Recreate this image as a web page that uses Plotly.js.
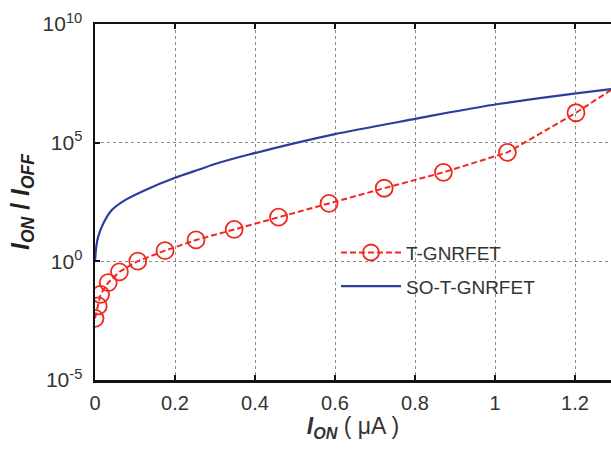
<!DOCTYPE html>
<html>
<head>
<meta charset="utf-8">
<script src="https://cdn.plot.ly/plotly-3.0.1.min.js"></script>
<style>html,body{margin:0;padding:0;background:#fff;}#chart{width:611px;height:457px;}</style>
</head>
<body>
<div id="chart"></div>
<script>
// T-GNRFET (red dashed with open circles): I_ON (uA) and log10(I_ON/I_OFF)
const tX = [0, 0.008, 0.014, 0.033, 0.061, 0.107, 0.175, 0.2525, 0.348, 0.459, 0.585, 0.723, 0.871, 1.031, 1.2025, 1.35];
const tLog = [-2.40, -1.88, -1.39, -0.90, -0.44, 0.01, 0.45, 0.90, 1.35, 1.86, 2.44, 3.08, 3.75, 4.59, 6.26, 7.88];
// SO-T-GNRFET (blue solid)
const sX = [0, 0.003, 0.008, 0.021, 0.042, 0.075, 0.125, 0.2, 0.2625, 0.3, 0.3875, 0.6, 0.8, 0.8875, 1.004, 1.2025, 1.29];
const sLog = [0, 0.6, 1.04, 1.60, 2.16, 2.58, 3.00, 3.52, 3.88, 4.10, 4.51, 5.36, 6.00, 6.28, 6.62, 7.08, 7.26];

const xTicks = [0, 0.2, 0.4, 0.6, 0.8, 1, 1.2];
const xTickText = ['0', '0.2', '0.4', '0.6', '0.8', '1', '1.2'];
const yTicks = [1e-5, 1e0, 1e5, 1e10];
const yTickText = ['10<sup>-5</sup>', '10<sup>0</sup>', '10<sup>5</sup>', '10<sup>10</sup>'];

const tY = tLog.map(v => Math.pow(10, v));
const sY = sLog.map(v => Math.pow(10, v));

const traces = [
  {
    x: tX, y: tY, type: 'scatter', mode: 'lines+markers', name: 'T-GNRFET', legendgroup: 'a',
    line: {color: '#f0281e', width: 2, dash: '6px,3px'},
    marker: {symbol: 'circle-open', size: 17, color: '#f0281e', line: {width: 1.8, color: '#f0281e'}}
  },
  {
    x: sX, y: sY, type: 'scatter', mode: 'lines', name: 'SO-T-GNRFET', legendgroup: 'b',
    line: {color: '#2e3d9a', width: 2.2, shape: 'spline', smoothing: 0.6}
  }
];

const layout = {
  width: 611, height: 457,
  margin: {l: 95, r: 0, t: 24, b: 77},
  paper_bgcolor: '#fff', plot_bgcolor: '#fff',
  font: {family: 'Liberation Sans, Arial, sans-serif', color: '#333'},
  showlegend: true,
  legend: {
    x: 0.467, y: 0.31, xanchor: 'left', yanchor: 'middle',
    bgcolor: 'rgba(255,255,255,0)', borderwidth: 0,
    font: {size: 19, color: '#333'}, itemwidth: 60, tracegroupgap: 6
  },
  xaxis: {
    range: [0, 1.29], tickvals: xTicks, ticktext: xTickText,
    ticks: 'inside', ticklen: 5, tickwidth: 2, tickcolor: '#111',
    showline: true, linecolor: '#111', linewidth: 2.5, mirror: 'ticks',
    showgrid: true, gridcolor: '#8a8a8a', griddash: 'dot', gridwidth: 1,
    zeroline: false, tickfont: {size: 20, color: '#333'}, ticklabelstandoff: 3,
    title: {text: '<b><i>I</i></b><sub><b><i>ON</i></b></sub> ( μA )', font: {size: 23, color: '#333'}, standoff: 6}
  },
  yaxis: {
    type: 'log', range: [-5, 10], tickvals: yTicks, ticktext: yTickText,
    ticks: 'inside', ticklen: 5, tickwidth: 2, tickcolor: '#111',
    showline: true, linecolor: '#111', linewidth: 2.5, mirror: false,
    showgrid: true, gridcolor: '#8a8a8a', griddash: 'dot', gridwidth: 1,
    zeroline: false, tickfont: {size: 21, color: '#333'}, ticklabelstandoff: 6,
    title: {text: '<b><i>I</i></b><sub><b><i>ON</i></b></sub><b> / </b><b><i>I</i></b><sub><b><i>OFF</i></b></sub>', font: {size: 25, color: '#222'}, standoff: 6}
  }
};

Plotly.newPlot('chart', traces, layout, {displayModeBar: false, staticPlot: true});
</script>
</body>
</html>
